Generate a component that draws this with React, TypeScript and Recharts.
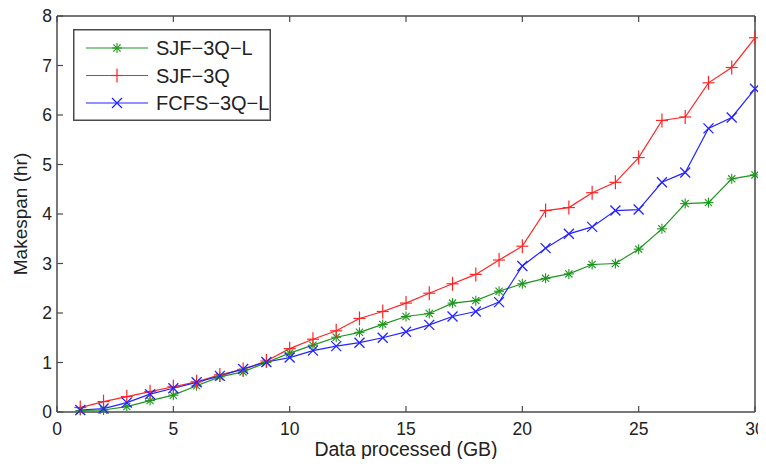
import { LineChart, Line, XAxis, YAxis, Legend } from 'recharts';

// data (makespan in hours per GB processed)
const gb = [1, 2, 3, 4, 5, 6, 7, 8, 9, 10, 11, 12, 13, 14, 15, 16, 17, 18, 19, 20, 21, 22, 23, 24, 25, 26, 27, 28, 29, 30];
const sjf3qL = [0.03, 0.04, 0.11, 0.23, 0.34, 0.53, 0.71, 0.81, 1.0, 1.19, 1.35, 1.51, 1.61, 1.77, 1.93, 1.99, 2.2, 2.25, 2.44, 2.59, 2.7, 2.79, 2.98, 3.0, 3.29, 3.7, 4.21, 4.23, 4.71, 4.79];
const sjf3q = [0.09, 0.21, 0.31, 0.41, 0.51, 0.61, 0.75, 0.86, 1.03, 1.28, 1.47, 1.64, 1.89, 2.03, 2.2, 2.4, 2.59, 2.78, 3.07, 3.35, 4.07, 4.13, 4.43, 4.64, 5.14, 5.89, 5.96, 6.65, 6.96, 7.56];
const fcfs3qL = [0.04, 0.07, 0.19, 0.36, 0.48, 0.6, 0.73, 0.87, 1.01, 1.1, 1.24, 1.33, 1.4, 1.5, 1.62, 1.76, 1.93, 2.03, 2.22, 2.95, 3.31, 3.6, 3.74, 4.07, 4.09, 4.64, 4.84, 5.73, 5.95, 6.53];

const xTicks = [0, 5, 10, 15, 20, 25, 30];
const yTicks = [0, 1, 2, 3, 4, 5, 6, 7, 8];

type Kind = 'star' | 'plus' | 'cross';

const series: { key: string; name: string; color: string; kind: Kind }[] = [
  { key: 'sjf3qL', name: 'SJF\u22123Q\u2212L', color: '#1e961e', kind: 'star' },
  { key: 'sjf3q', name: 'SJF\u22123Q', color: '#ff2424', kind: 'plus' },
  { key: 'fcfs3qL', name: 'FCFS\u22123Q\u2212L', color: '#2424ff', kind: 'cross' },
];

const data = gb.map((g, i) => ({
  gb: g,
  sjf3qL: sjf3qL[i],
  sjf3q: sjf3q[i],
  fcfs3qL: fcfs3qL[i],
}));

const FONT = '"Liberation Sans", Arial, sans-serif';
const AXIS = '#4a4a4a';

function Marker({ kind, cx, cy, color }: { kind: Kind; cx: number; cy: number; color: string }) {
  const r = 5;
  const d = 3.6;
  if (kind === 'plus') {
    return (
      <g stroke={color} strokeWidth={1.2}>
        <line x1={cx - 6} x2={cx + 6} y1={cy} y2={cy} />
        <line x1={cx} x2={cx} y1={cy - 7} y2={cy + 7} />
      </g>
    );
  }
  if (kind === 'cross') {
    return (
      <g stroke={color} strokeWidth={1.3}>
        <line x1={cx - r} x2={cx + r} y1={cy - r} y2={cy + r} />
        <line x1={cx - r} x2={cx + r} y1={cy + r} y2={cy - r} />
      </g>
    );
  }
  return (
    <g stroke={color} strokeWidth={1.1}>
      <line x1={cx - r} x2={cx + r} y1={cy} y2={cy} />
      <line x1={cx} x2={cx} y1={cy - r} y2={cy + r} />
      <line x1={cx - d} x2={cx + d} y1={cy - d} y2={cy + d} />
      <line x1={cx - d} x2={cx + d} y1={cy + d} y2={cy - d} />
    </g>
  );
}

const dotFor = (kind: Kind, color: string) => (props: any) => {
  const { cx, cy, index } = props;
  if (cx == null || cy == null) return <g key={`d-${index}`} />;
  return <Marker key={`d-${index}`} kind={kind} cx={cx} cy={cy} color={color} />;
};

const BottomTick = ({ x, y, payload }: any) => (
  <g>
    <line x1={x} x2={x} y1={y} y2={y - 6} stroke={AXIS} strokeWidth={1.2} />
    <text x={x} y={y + 23} textAnchor="middle" fontSize={17.5} fill="#222" fontFamily={FONT}>
      {payload.value}
    </text>
  </g>
);

const TopTick = ({ x, y }: any) => (
  <line x1={x} x2={x} y1={y} y2={y + 6} stroke={AXIS} strokeWidth={1.2} />
);

const LeftTick = ({ x, y, payload }: any) => (
  <g>
    <line x1={x} x2={x + 6} y1={y} y2={y} stroke={AXIS} strokeWidth={1.2} />
    <text x={x - 5} y={y + 6} textAnchor="end" fontSize={17.5} fill="#222" fontFamily={FONT}>
      {payload.value}
    </text>
  </g>
);

const RightTick = ({ x, y }: any) => (
  <line x1={x} x2={x - 6} y1={y} y2={y} stroke={AXIS} strokeWidth={1.2} />
);

function LegendBox() {
  return (
    <svg width={198} height={92} style={{ display: 'block' }}>
      <rect x={0.75} y={0.75} width={196.5} height={90.5} fill="#fff" stroke={AXIS} strokeWidth={1.5} />
      {series.map((s, i) => {
        const cy = 19 + i * 27.5;
        return (
          <g key={s.key}>
            <line x1={13} x2={75} y1={cy} y2={cy} stroke={s.color} strokeWidth={1.2} />
            <Marker kind={s.kind} cx={44} cy={cy} color={s.color} />
            <text x={83} y={cy + 7} fontSize={20} fill="#222" fontFamily={FONT}>
              {s.name}
            </text>
          </g>
        );
      })}
    </svg>
  );
}

export default function App() {
  return (
    <div style={{ margin: -8, width: 766, height: 467, background: '#fff' }}>
      <LineChart
        width={766}
        height={467}
        data={data}
        margin={{ top: 0, right: 0, bottom: 0, left: 0 }}
        style={{ fontFamily: FONT }}
      >
        <XAxis
          dataKey="gb"
          type="number"
          domain={[0, 30]}
          ticks={xTicks}
          height={55}
          tickSize={0}
          tickMargin={0}
          tickLine={false}
          axisLine={{ stroke: AXIS, strokeWidth: 1.5 }}
          tick={<BottomTick />}
          label={{
            content: ({ viewBox }: any) => (
              <text
                x={viewBox.x + viewBox.width / 2}
                y={viewBox.y + 44}
                textAnchor="middle"
                fontSize={19.5}
                fill="#222"
                fontFamily={FONT}
              >
                Data processed (GB)
              </text>
            ),
          }}
        />
        <XAxis
          xAxisId="top"
          orientation="top"
          dataKey="gb"
          type="number"
          domain={[0, 30]}
          ticks={xTicks}
          height={16}
          tickSize={0}
          tickMargin={0}
          tickLine={false}
          axisLine={{ stroke: AXIS, strokeWidth: 1.5 }}
          tick={<TopTick />}
        />
        <YAxis
          type="number"
          domain={[0, 8]}
          ticks={yTicks}
          width={57}
          tickSize={0}
          tickMargin={0}
          tickLine={false}
          axisLine={{ stroke: AXIS, strokeWidth: 1.5 }}
          tick={<LeftTick />}
          label={{
            content: ({ viewBox }: any) => {
              const cx = 20;
              const cy = viewBox.y + viewBox.height / 2;
              return (
                <text
                  x={cx}
                  y={cy}
                  transform={`rotate(-90 ${cx} ${cy})`}
                  textAnchor="middle"
                  dominantBaseline="central"
                  fontSize={19}
                  fill="#222"
                  fontFamily={FONT}
                >
                  Makespan (hr)
                </text>
              );
            },
          }}
        />
        <YAxis
          yAxisId="right"
          orientation="right"
          type="number"
          domain={[0, 8]}
          ticks={yTicks}
          width={11}
          tickSize={0}
          tickMargin={0}
          tickLine={false}
          axisLine={{ stroke: AXIS, strokeWidth: 1.5 }}
          tick={<RightTick />}
        />
        <Legend
          layout="vertical"
          align="center"
          verticalAlign="middle"
          wrapperStyle={{ left: 73, top: 29, width: 198, height: 92 }}
          content={() => <LegendBox />}
        />
        {series.map((s) => (
          <Line
            key={s.key}
            dataKey={s.key}
            name={s.name}
            type="linear"
            stroke={s.color}
            strokeWidth={1.2}
            dot={dotFor(s.kind, s.color)}
            activeDot={false}
            isAnimationActive={false}
          />
        ))}
      </LineChart>
    </div>
  );
}
